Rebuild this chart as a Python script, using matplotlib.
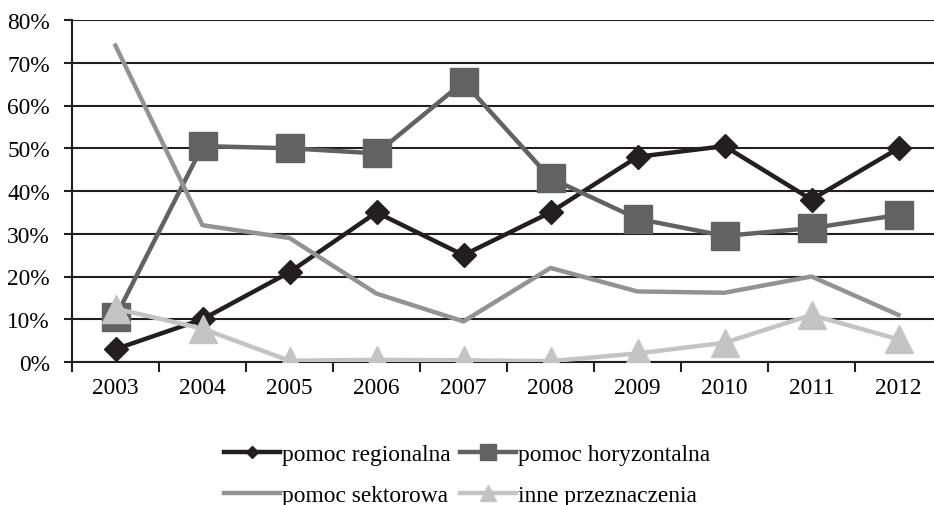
import matplotlib
matplotlib.use("Agg")
import matplotlib.pyplot as plt
from matplotlib.ticker import FuncFormatter, FixedLocator

plt.rcParams['font.family'] = ['Liberation Serif', 'DejaVu Serif']

years = ["2003", "2004", "2005", "2006", "2007", "2008", "2009", "2010", "2011", "2012"]
regional = [3.0, 10.0, 21.0, 35.0, 25.0, 35.0, 48.0, 50.5, 38.0, 50.0]
horizontal = [10.5, 50.5, 50.0, 48.8, 65.5, 43.0, 33.5, 29.5, 31.3, 34.4]
sectoral = [74.0, 32.0, 29.0, 16.0, 9.5, 22.0, 16.5, 16.2, 20.0, 11.0]
other = [12.5, 7.8, 0.3, 0.5, 0.4, 0.2, 2.0, 4.5, 11.0, 5.3]
labels = ["pomoc regionalna", "pomoc horyzontalna", "pomoc sektorowa", "inne przeznaczenia"]

W, H = 934, 506
fig = plt.figure(figsize=(W/100, H/100), dpi=100)
left, right, top, bottom = 72, 942, 21, 363
ax = fig.add_axes([left/W, 1-bottom/H, (right-left)/W, (bottom-top)/H])

x = list(range(len(years)))
l1, = ax.plot(x, regional, color='#231f20', lw=3.2, marker='D', ms=12, zorder=3)
l2, = ax.plot(x, horizontal, color='#626262', lw=3.2, marker='s', ms=20, zorder=4)
l3, = ax.plot(x, sectoral, color='#939393', lw=3.2, zorder=5)
l4, = ax.plot(x, other, color='#c4c4c4', lw=3.2, marker='^', ms=20, zorder=6)

FS = 16.8
ax.set_xlim(-0.5, len(years)-0.5)
ax.set_ylim(0, 80)
ax.set_yticks(range(0, 81, 10))
ax.yaxis.set_major_formatter(FuncFormatter(lambda v, p: f"{int(v)}%"))
ax.set_xticks(x)
ax.set_xticklabels(years)
ax.xaxis.set_minor_locator(FixedLocator([i - 0.5 for i in range(len(years)+1)]))
ax.tick_params(axis='x', which='major', length=0, pad=11, labelsize=FS)
ax.tick_params(axis='x', which='minor', length=7, width=1.5, direction='out', color='#231f20')
ax.tick_params(axis='y', length=6, width=1.5, labelsize=FS, pad=10, color='#231f20')
ax.grid(axis='y', color='#231f20', lw=1.5, zorder=1)
for s in ['top', 'right']:
    ax.spines[s].set_visible(False)
for s in ['left', 'bottom']:
    ax.spines[s].set_linewidth(1.5)
    ax.spines[s].set_color('#231f20')
ax.set_axisbelow(True)

leg = fig.legend([l1, l3, l2, l4], [labels[0], labels[2], labels[1], labels[3]],
                 ncol=2, loc='upper center', bbox_to_anchor=(0.5, 1 - 435/H),
                 frameon=False, fontsize=FS, handlelength=2.4, handletextpad=0.1,
                 columnspacing=0.4, labelspacing=0.85, markerscale=0.55,
                 borderaxespad=0)

fig.savefig("out.png", dpi=100)
